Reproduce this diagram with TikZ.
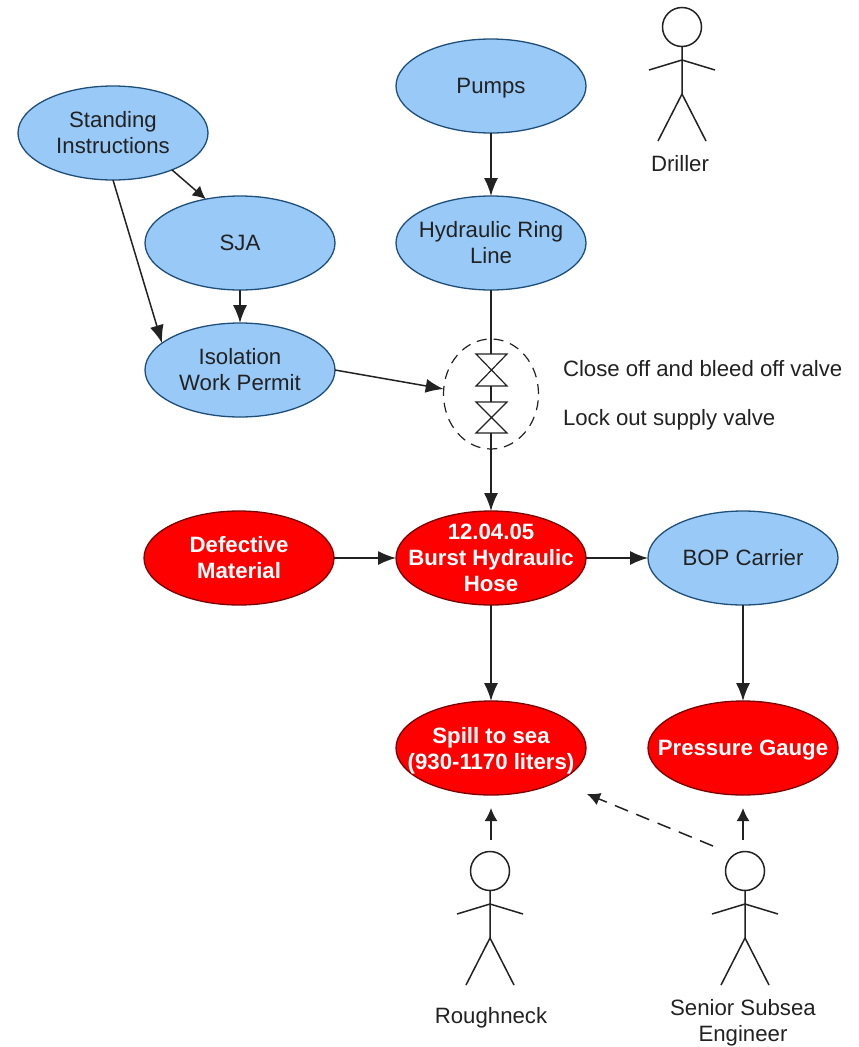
\documentclass[tikz,border=0pt]{standalone}
\usepackage{fontspec}
\setmainfont{Liberation Sans}
\usepackage[svgnames]{xcolor}
\usepackage{tikz}
\usetikzlibrary{arrows.meta}
\usetikzlibrary{shapes.geometric}
\definecolor{barrierblue}{HTML}{99C9F7}
\definecolor{barrierline}{HTML}{1F4E79}
\definecolor{failurered}{HTML}{FF0000}
\definecolor{failureline}{HTML}{7A0000}
\definecolor{inkgrey}{HTML}{222222}
\tikzset{
    barrier/.style={ellipse, draw=barrierline, fill=barrierblue, line width=1.3pt, minimum width=190pt, minimum height=94pt, inner sep=-25pt, outer sep=0pt, align=center, font=\fontsize{22.2}{26}\selectfont, text=inkgrey},
    failure/.style={ellipse, draw=failureline, fill=failurered, line width=1.3pt, minimum width=190pt, minimum height=94pt, inner sep=-25pt, outer sep=0pt, align=center, font=\fontsize{22.2}{26}\selectfont\bfseries, text=white},
    flow/.style={draw=inkgrey, line width=1.5pt, -{Latex[length=18pt, width=14pt]}},
    smallflow/.style={draw=inkgrey, line width=1.5pt, -{Latex[length=13pt, width=13pt]}},
    plainflow/.style={draw=inkgrey, line width=1.5pt},
    notelabel/.style={inner sep=0pt, outer sep=0pt, align=center, font=\fontsize{22.2}{26}\selectfont, text=inkgrey},
    stickman/.pic={
        \draw[inkgrey, line width=1.5pt] (0,0) circle (19.5);
        \draw[inkgrey, line width=1.5pt] (0,19.5) -- (0,67) (-33,43) -- (0,33) -- (33,43) (-24,114) -- (0,67) -- (24,114);
    }
}
\begin{document}
\begin{tikzpicture}[x=1pt, y=-1pt]
            \useasboundingbox (0,0) rectangle (859,1047);

            \node[barrier] (standing) at (113,133) {Standing\\Instructions};
            \node[barrier] (sja) at (240,243) {SJA};
            \node[barrier] (isolation) at (240,370) {Isolation\\Work Permit};
            \node[barrier, text depth=0pt] (pumps) at (491,86) {Pumps};
            \node[barrier] (ringline) at (491,243) {Hydraulic Ring\\Line};
            \node[barrier] (carrier) at (743,558) {BOP Carrier};

            \node[failure] (defective) at (239,558) {Defective\\Material};
            \node[failure] (hose) at (491,558) {12.04.05\\Burst Hydraulic\\Hose};
            \node[failure, text depth=0pt] (spill) at (491,748) {Spill to sea\\(930-1170 liters)};
            \node[failure, text depth=0pt] (gauge) at (743,748) {Pressure Gauge};

            % valves
            \node[ellipse, draw=inkgrey, line width=1.2pt, dashed, dash pattern=on 10pt off 7pt, minimum width=95pt, minimum height=110pt, inner sep=0pt, outer sep=0pt] (gate) at (491,394) {};
            \coordinate (upperin) at (491,354);
            \coordinate (upperout) at (491,386);
            \coordinate (lowerin) at (491,402);
            \coordinate (lowerout) at (491,433);
            \draw[inkgrey, line width=1.2pt] (476,354) -- (507,354) -- (476,386) -- (507,386) -- cycle;
            \draw[inkgrey, line width=1.2pt] (476,402) -- (507,402) -- (476,433) -- (507,433) -- cycle;
            \node[notelabel, anchor=west] (closeoff) at (563,369) {Close off and bleed off valve};
            \node[notelabel, anchor=west, text depth=0pt] (lockout) at (563,417) {Lock out supply valve};

            % actors
            \pic at (682,27) {stickman};
            \pic at (490,871) {stickman};
            \pic at (745,871) {stickman};
            \node[notelabel] (driller) at (680,164) {Driller};
            \node[notelabel, text depth=0pt] (roughneck) at (491,1015) {Roughneck};
            \node[notelabel] (engineer) at (743,1023) {Senior Subsea\\Engineer};

            \coordinate (roughneckup) at (491,840);
            \coordinate (engineerup) at (743,840);
            \coordinate (engineerside) at (713,846);
            \coordinate (spillside) at (587,794);
            \coordinate (spilltip) at (491,808);
            \coordinate (gaugetip) at (743,808);

            % connectors
            \draw[smallflow] (standing.-32) -- (sja.128);
            \draw[flow] (standing.south) -- (isolation.161);
            \draw[flow] (sja) -- (isolation);
            \draw[flow] (pumps) -- (ringline);
            \draw[plainflow] (ringline) -- (upperin);
            \draw[plainflow] (upperout) -- (lowerin);
            \draw[flow] (lowerout) -- (hose);
            \draw[flow] (isolation.east) -- (gate.174);
            \draw[flow] (defective) -- (hose);
            \draw[flow] (hose) -- (carrier);
            \draw[flow] (hose) -- (spill);
            \draw[flow] (carrier) -- (gauge);
            \draw[smallflow] (roughneckup) -- (spilltip);
            \draw[smallflow] (engineerup) -- (gaugetip);
            \draw[smallflow, dashed, dash pattern=on 14pt off 9pt] (engineerside) -- (spillside);
        \end{tikzpicture}
\end{document}
